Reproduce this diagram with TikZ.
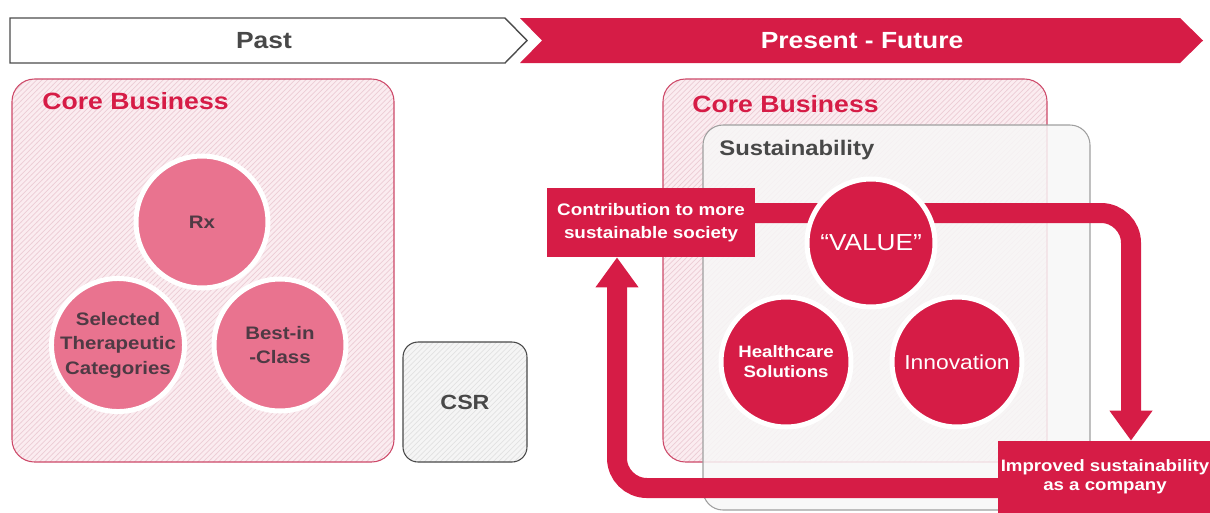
\documentclass[tikz,border=0pt]{standalone}
\usepackage{fontspec}
\setmainfont{Liberation Sans}[FakeStretch=1.13]
\usetikzlibrary{arrows.meta,patterns}

\definecolor{crimson}{RGB}{214,28,70}
\definecolor{discpink}{RGB}{233,115,143}
\definecolor{disctext}{RGB}{78,58,68}
\definecolor{corefill}{RGB}{251,236,240}
\definecolor{corehatch}{RGB}{236,204,213}
\definecolor{coreedge}{RGB}{205,72,104}
\definecolor{csrfill}{RGB}{245,245,245}
\definecolor{csrhatch}{RGB}{226,226,226}
\definecolor{darkgray}{RGB}{72,72,72}

\begin{document}
\begin{tikzpicture}[x=0.02cm,y=-0.02cm,
		phase/.style={font=\fontsize{13.3}{16}\selectfont\bfseries},
		title/.style={anchor=base west,inner sep=0pt,font=\fontsize{13.4}{16}\selectfont\bfseries},
		corebox/.style={draw=coreedge,line width=0.6pt,rounded corners=0.45cm,preaction={fill=corefill},pattern=north east lines,pattern color=corehatch},
		sustbox/.style={draw=gray!75,line width=0.6pt,rounded corners=0.4cm,fill=black!3,fill opacity=0.85},
		csrbox/.style={draw=darkgray,line width=0.6pt,rounded corners=0.3cm,preaction={fill=csrfill},pattern=north east lines,pattern color=csrhatch,text=darkgray,font=\fontsize{11.7}{14}\selectfont\bfseries},
		pinkdisc/.style={circle,fill=discpink,draw=white,line width=0.1cm,minimum size=2.64cm,inner sep=0pt,align=center,text=disctext},
		reddisc/.style={circle,fill=crimson,draw=white,line width=0.1cm,minimum size=2.6cm,inner sep=0pt,align=center,text=white},
		redbox/.style={fill=crimson,text=white,align=center,inner sep=0pt},
		band/.style={draw=crimson,line width=0.4cm,rounded corners=0.6cm,-{Triangle[width=0.82cm,length=0.6cm]}}
	]

	\useasboundingbox (0,0) rectangle (1210,512);

	\draw[line width=0.8pt,draw=gray!60!black,fill=white] (10,18) -- (505,18) -- (527,40.5) -- (505,63) -- (10,63) -- cycle;
	\fill[crimson] (520,18) -- (1180,18) -- (1203,40.5) -- (1180,63) -- (520,63) -- (542,40.5) -- cycle;
	\node[phase,text=darkgray] (past) at (264,40.5) {Past};
	\node[phase,text=white] (future) at (862,40.5) {Present - Future};

	\draw[corebox] (12,79) rectangle (394,462);
	\node[title,text=crimson] (coreL) at (42,109) {Core Business};

	\node[pinkdisc,font=\fontsize{10.3}{14}\selectfont\bfseries] (rx) at (202,222) {Rx};
	\node[pinkdisc,font=\fontsize{10.3}{14}\selectfont\bfseries] (categories) at (118,345) {Selected\\Therapeutic\\Categories};
	\node[pinkdisc,font=\fontsize{10.3}{13.2}\selectfont\bfseries] (bestin) at (280,345) {Best-in\\-Class};

	\node[csrbox,minimum width=2.48cm,minimum height=2.4cm] (csr) at (465,402) {CSR};

	\draw[corebox] (663,79) rectangle (1047,462);
	\node[title,text=crimson] (coreR) at (692,112) {Core Business};
	\draw[sustbox] (703,125) rectangle (1090,510);
	\node[title,text=darkgray,font=\fontsize{12}{14}\selectfont\bfseries] (sust) at (719,155) {Sustainability};

	\node[redbox,minimum width=4.16cm,minimum height=1.38cm,font=\fontsize{9.5}{13.1}\selectfont\bfseries] (contrib) at (651,222.5) {Contribution to more\\sustainable society};
	\node[redbox,minimum width=4.28cm,minimum height=1.44cm,font=\fontsize{9.4}{10.8}\selectfont\bfseries] (improved) at (1105,477) {Improved sustainability\\as a company};

	\coordinate (turnR) at (1131,213);
	\coordinate (turnL) at (617,488);
	\draw[band] ([xshift=-2pt]contrib.east |- turnR) -- (turnR) -- (turnR |- improved.north);
	\draw[band] ([xshift=2pt]improved.west |- turnL) -- (turnL) -- (turnL |- contrib.south);

	\node[reddisc,minimum size=2.56cm,font=\fontsize{13.2}{16}\selectfont] (value) at (871,243) {``VALUE''};
	\node[reddisc,font=\fontsize{9.4}{11.4}\selectfont\bfseries] (health) at (786,362) {Healthcare\\Solutions};
	\node[reddisc,font=\fontsize{11.5}{14}\selectfont] (innov) at (957,362) {Innovation};

\end{tikzpicture}
\end{document}
